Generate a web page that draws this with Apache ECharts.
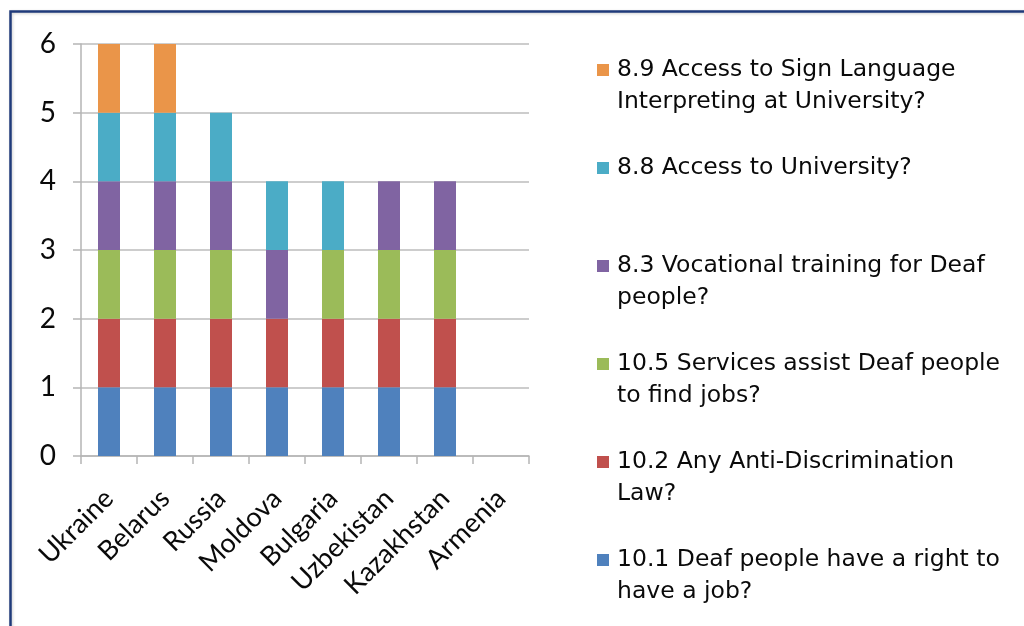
<!DOCTYPE html>
<html>
<head>
<meta charset="utf-8">
<script src="https://cdn.jsdelivr.net/npm/echarts@6/dist/echarts.min.js"></script>
<style>
html,body{margin:0;padding:0;background:#fff;}
#chart{width:1024px;height:626px;}
</style>
</head>
<body>
<div id="chart"></div>
<script>
const countries = ['Ukraine','Belarus','Russia','Moldova','Bulgaria','Uzbekistan','Kazakhstan','Armenia'];
const yTicks = [0,1,2,3,4,5,6];
// series from bottom of stack to top
const seriesNames = [
  '10.1 Deaf people have a right to have a job?',
  '10.2 Any Anti-Discrimination Law?',
  '10.5 Services assist Deaf people to find jobs?',
  '8.3 Vocational training for Deaf people?',
  '8.8 Access to University?',
  '8.9 Access to Sign Language Interpreting at University?'
];
const legendLines = [
  ['10.1 Deaf people have a right to', 'have a job?'],
  ['10.2 Any Anti-Discrimination', 'Law?'],
  ['10.5 Services assist Deaf people', 'to find jobs?'],
  ['8.3 Vocational training for Deaf', 'people?'],
  ['8.8 Access to University?', ''],
  ['8.9 Access to Sign Language', 'Interpreting at University?']
];
const q101 = [1,1,1,1,1,1,1,0];
const q102 = [1,1,1,1,1,1,1,0];
const q105 = [1,1,1,0,1,1,1,0];
const q83  = [1,1,1,1,0,1,1,0];
const q88  = [1,1,1,1,1,0,0,0];
const q89  = [1,1,0,0,0,0,0,0];
const seriesValues = [q101,q102,q105,q83,q88,q89];
const colors = ['#4F81BD','#C0504D','#9BBB59','#8064A2','#4BACC6','#EA9549'];

const chart = echarts.init(document.getElementById('chart'));
const rich = {
  ind: {width: 20},
  gap: {width: 8}
};
colors.forEach((c,i)=>{ rich['s'+i] = {width: 12, height: 12, backgroundColor: c}; });

const axisFont = 'Lato, "Liberation Sans", sans-serif';
chart.setOption({
  animation: false,
  backgroundColor: '#fff',
  graphic: [{
    type: 'rect',
    shape: {x: 10.5, y: 11.5, width: 1200, height: 800},
    style: {fill: null, stroke: '#1F3A7A', lineWidth: 2.5, shadowBlur: 3, shadowColor: 'rgba(0,0,0,0.2)', shadowOffsetX: 1, shadowOffsetY: 1},
    silent: true, z: 100
  }],
  grid: {left: 81, right: 495, top: 44, bottom: 170, containLabel: false},
  legend: {
    orient: 'vertical',
    left: 592,
    top: 54,
    padding: 0,
    itemGap: 34,
    icon: 'none',
    itemWidth: 0,
    itemHeight: 0,
    data: seriesNames.slice().reverse(),
    formatter: function(name){
      const i = seriesNames.indexOf(name);
      const l = legendLines[i];
      return '{s'+i+'|}{gap|}' + l[0] + '\n{ind|}' + l[1];
    },
    textStyle: {
      fontFamily: '"DejaVu Sans", sans-serif',
      fontSize: 23.5,
      lineHeight: 32,
      color: '#0a0a0a',
      rich: rich
    }
  },
  xAxis: {
    type: 'category',
    data: countries,
    axisLine: {show: true, lineStyle: {color: '#B5B5B5', width: 1.5}},
    axisTick: {show: true, length: 8, interval: 0, alignWithLabel: false, lineStyle: {color: '#B5B5B5', width: 1.5}},
    axisLabel: {interval: 0, rotate: 45, margin: 38, fontFamily: axisFont, fontSize: 27, color: '#0a0a0a'}
  },
  yAxis: {
    type: 'value',
    min: yTicks[0],
    max: yTicks[yTicks.length-1],
    interval: 1,
    axisLine: {show: true, lineStyle: {color: '#B5B5B5', width: 1.5}},
    axisTick: {show: true, length: 8, lineStyle: {color: '#B5B5B5', width: 1.5}},
    splitLine: {show: true, lineStyle: {color: '#BDBDBD', width: 1.5}},
    axisLabel: {margin: 25, fontFamily: axisFont, fontSize: 28, color: '#0a0a0a'}
  },
  series: seriesNames.map((n,i)=>({
    name: n,
    type: 'bar',
    stack: 'total',
    barWidth: 22,
    itemStyle: {color: colors[i]},
    data: seriesValues[i]
  }))
});
</script>
</body>
</html>
